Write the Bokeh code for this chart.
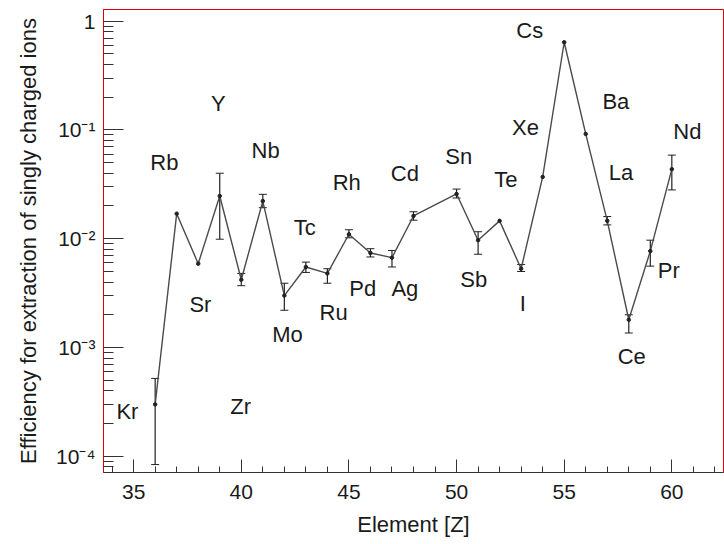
from bokeh.plotting import figure
from bokeh.models import ColumnDataSource, Whisker, FixedTicker, CustomJSTickFormatter, Range1d
from bokeh.core.properties import value
from bokeh.embed import file_html
from bokeh.resources import INLINE

# ---- data ----
Z = [36, 37, 38, 39, 40, 41, 42, 43, 44, 45, 46, 47, 48,
     50, 51, 52, 53, 54, 55, 56, 57, 58, 59, 60]
symbols = ["Kr", "Rb", "Sr", "Y", "Zr", "Nb", "Mo", "Tc", "Ru", "Rh", "Pd", "Ag", "Cd",
           "Sn", "Sb", "Te", "I", "Xe", "Cs", "Ba", "La", "Ce", "Pr", "Nd"]
efficiency = [3.0e-4, 0.0170, 0.0059, 0.0247, 0.0042, 0.0222, 0.0030, 0.0055, 0.0048,
              0.0110, 0.0074, 0.0067, 0.0162, 0.0258, 0.0097, 0.0146, 0.0053, 0.037,
              0.64, 0.092, 0.0146, 0.0018, 0.0077, 0.0436]
err_upper = [5.2e-4, None, None, 0.040, 0.0048, 0.0256, 0.0039, 0.0061, 0.0053,
             0.0121, 0.0081, 0.0078, 0.0177, 0.0286, 0.0116, None, 0.0058, None,
             None, None, 0.0160, 0.0020, 0.0097, 0.0587]
err_lower = [8.4e-5, None, None, 0.0099, 0.0037, 0.0193, 0.0022, 0.0049, 0.0039,
             0.0102, 0.0068, 0.0055, 0.0148, 0.0237, 0.0072, None, 0.0050, None,
             None, None, 0.0134, 0.00136, 0.0056, 0.0281]

# annotation anchor points (data coordinates) for the element symbols
label_z = [34.71, 36.43, 38.10, 38.94, 39.97, 41.13, 42.15, 42.95, 44.29, 44.90, 45.64, 47.60,
           47.60, 50.10, 50.80, 52.29, 53.08, 53.20, 53.40, 57.40, 57.64, 58.14, 59.86, 60.72]
label_eff = [2.58e-4, 0.0499, 0.00251, 0.174, 2.88e-4, 0.0645, 0.00132, 0.0128, 0.00211,
             0.0327, 0.00351, 0.00351, 0.0394, 0.0566, 0.00425, 0.0347, 0.00255, 0.105,
             0.82, 0.182, 0.041, 0.00083, 0.0051, 0.096]

x_major = [35, 40, 45, 50, 55, 60]
x_minor = list(range(34, 63))
y_major = [1e-4, 1e-3, 1e-2, 1e-1, 1.0]
y_minor = [m * 10.0 ** d for d in range(-5, 0) for m in range(2, 10)]

FONT = "Liberation Sans"
TXT = "#1a1a1a"

p = figure(width=724, height=544, y_axis_type="log",
           x_range=Range1d(33.6, 62.4), y_range=Range1d(7.1e-5, 1.28),
           output_backend="svg", toolbar_location=None,
           min_border_left=103, min_border_right=1, min_border_top=9, min_border_bottom=72,
           background_fill_color="white", border_fill_color="white")
p.grid.visible = False
p.outline_line_color = "#e00000"
p.outline_line_width = 1

# x axis
xa = p.xaxis[0]
xa.ticker = FixedTicker(ticks=x_major, minor_ticks=x_minor)
xa.axis_label = "Element [Z]"
xa.axis_label_text_font = FONT
xa.axis_label_text_font_size = "22px"
xa.axis_label_text_font_style = "normal"
xa.axis_label_text_color = TXT
xa.axis_label_standoff = 10
xa.major_label_text_font = FONT
xa.major_label_text_font_size = "21px"
xa.major_label_text_color = TXT
xa.major_label_standoff = 12
xa.major_tick_in = 13
xa.major_tick_out = 0
xa.minor_tick_in = 6
xa.minor_tick_out = 0
xa.major_tick_line_color = "#333333"
xa.minor_tick_line_color = "#333333"
xa.axis_line_color = "#333333"

# y axis
ya = p.yaxis[0]
ya.ticker = FixedTicker(ticks=y_major, minor_ticks=y_minor)
ya.formatter = CustomJSTickFormatter(code="""
const e = Math.round(Math.log10(tick));
if (e === 0) { return "1"; }
const sup = {"-": "⁻", "0": "⁰", "1": "¹", "2": "²", "3": "³", "4": "⁴", "5": "⁵"};
return "10" + String(e).split("").map(c => sup[c]).join("");
""")
ya.axis_label = "Efficiency for extraction of singly charged ions"
ya.axis_label_text_font = FONT
ya.axis_label_text_font_size = "22px"
ya.axis_label_text_font_style = "normal"
ya.axis_label_text_color = TXT
ya.axis_label_standoff = 12
ya.major_label_text_font = FONT
ya.major_label_text_font_size = "21px"
ya.major_label_text_color = TXT
ya.major_label_standoff = 8
ya.major_tick_in = 20
ya.major_tick_out = 0
ya.minor_tick_in = 10
ya.minor_tick_out = 0
ya.major_tick_line_color = "#333333"
ya.minor_tick_line_color = "#333333"
ya.axis_line_color = "#e00000"

# error bars
ez, eu, el = [], [], []
for z, u, l in zip(Z, err_upper, err_lower):
    if u is not None and l is not None:
        ez.append(z); eu.append(u); el.append(l)
err_src = ColumnDataSource(dict(z=ez, upper=eu, lower=el))
w = Whisker(source=err_src, base="z", upper="upper", lower="lower", dimension="height",
            line_color="#222222", line_width=1.2)
w.upper_head.size = 8
w.lower_head.size = 8
w.upper_head.line_color = "#222222"
w.lower_head.line_color = "#222222"
p.add_layout(w)

# line and points
src = ColumnDataSource(dict(z=Z, eff=efficiency))
p.line("z", "eff", source=src, line_color="#4a4a4a", line_width=1.4)
p.scatter("z", "eff", source=src, size=3.5, color="#222222")

# element labels
lab = ColumnDataSource(dict(x=label_z, y=label_eff, t=symbols))
p.text("x", "y", text="t", source=lab, text_align="center", text_baseline="middle",
       text_font=value(FONT), text_font_size="22px", text_color=TXT)

open("out.html", "w").write(file_html(p, INLINE))
